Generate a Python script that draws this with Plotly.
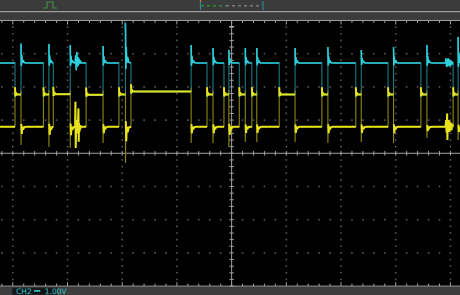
import numpy as np
import plotly.graph_objects as go

W, H = 460, 295

# ---------------- data (time and amplitude in screen divisions from centre) -------------
RECT_START = [-4.40, -3.85, -3.34, -2.95, -2.35, -1.94, -0.74, -0.34, -0.05, 0.25, 0.46,
              1.16, 1.76, 2.37, 2.96, 3.57, 4.14]
RECT_END = [-3.96, -3.44, -3.26, -2.66, -2.06, -1.84, -0.45, -0.14, 0.14, 0.37, 0.87,
            1.65, 2.27, 2.86, 3.46, 4.05, 4.40]
CYAN_PEAK = [3.30, 3.31, 3.29, 3.26, 3.23, 3.92, 3.26, 3.17, 3.11, 3.17, 3.17,
             3.17, 3.20, 3.11, 3.20, 3.26, 3.50]
YELLOW_DIP = [0.25, 0.25, 0.19, 0.16, 0.31, -0.29, 0.31, 0.31, 0.19, 0.34, 0.34,
              0.34, 0.31, 0.34, 0.31, 0.46, 0.40]
GAP_MID = [1.77, 1.77, 1.78, 1.76, 1.77, 1.86, 1.77, 1.77, 1.77, 1.77, 1.77,
           1.77, 1.77, 1.77, 1.77, 1.77, 1.77]
CYAN_HIGH = 2.72
YELLOW_LOW = 0.80
CYAN_MID_OFFSET = 0.0

CYAN_NOISE_X = [-2.86, -2.85, -2.84, -2.83, -2.82, -2.81, -2.80, -2.79, -2.78, -2.77, -2.76, -2.75,
                3.91, 3.92, 3.93, 3.94, 3.95, 3.96, 3.97, 3.98, 3.99, 4.00, 4.01, 4.02, 4.03, 4.04]
CYAN_NOISE_Y = [2.72, 2.95, 2.50, 3.05, 2.60, 2.90, 2.65, 2.85, 2.70, 2.80, 2.74, 2.72,
                2.72, 2.86, 2.60, 2.84, 2.62, 2.86, 2.64, 2.82, 2.62, 2.80, 2.65, 2.78, 2.68, 2.74]
YELLOW_NOISE_X = [-2.86, -2.855, -2.85, -2.84, -2.83, -2.82, -2.81, -2.80, -2.795, -2.79, -2.78,
                  -2.77, -2.76, -2.75,
                  3.91, 3.92, 3.93, 3.94, 3.945, 3.95, 3.96, 3.97, 3.98, 3.99, 4.00, 4.01,
                  4.02, 4.03, 4.04]
YELLOW_NOISE_Y = [0.80, 1.55, 0.16, 1.00, 0.60, 0.95, 0.70, 1.35, 0.35, 0.90, 0.65,
                  0.85, 0.75, 0.80,
                  0.80, 1.00, 0.62, 1.20, 0.40, 0.98, 0.66, 1.00, 0.64, 0.95, 0.68, 0.92,
                  0.70, 0.88, 0.80]

# edge ringing shape (style): time offsets and fraction of overshoot
RING_DT = [0.0, 0.006, 0.014, 0.024, 0.038, 0.06, 0.09]
RING_FRAC = [1.0, -0.15, 0.4, 0.0, 0.15, 0.02, 0.0]

X_RANGE = [-4.234, 4.175]
Y_RANGE = [-4.268, 4.617]

CYAN = "#2ccfdc"
CYAN_DIM = "#1a7c86"
YELLOW = "#e8e21c"
YELLOW_DIM = "#8c8716"


def channel(level, extremes, noise_x, noise_y, is_cyan):
    off = CYAN_MID_OFFSET if is_cyan else 0.0
    fx, fy, bx, by = [], [], [], []
    prev_mid = GAP_MID[-1] + off
    n = len(RECT_START)
    for i in range(n):
        t0, t1 = RECT_START[i], RECT_END[i]
        mid = GAP_MID[i] + off
        ext = extremes[i]
        fx.append(t0); fy.append(prev_mid)
        if not is_cyan:
            fx.append(t0); fy.append(prev_mid + 0.12)
        fx.append(t0); fy.append(ext)
        seg = []
        for dt, f in zip(RING_DT[1:], RING_FRAC[1:]):
            if t0 + dt < t1:
                seg.append((t0 + dt, level + f * (ext - level)))
        seg += [(x, y) for x, y in zip(noise_x, noise_y) if t0 < x < t1]
        seg.sort(key=lambda p: p[0])
        seg.append((t1, level))
        if is_cyan:
            seg = [(t0, ext)] + seg
        fx += [p[0] for p in seg]; fy += [p[1] for p in seg]
        bx += [p[0] for p in seg] + [None]; by += [p[1] for p in seg] + [None]
        if is_cyan:
            blip = [(t1, mid - 0.06), (t1 + 0.01, mid + 0.05), (t1 + 0.025, mid)]
        else:
            blip = [(t1, mid + 0.22), (t1 + 0.008, mid - 0.05), (t1 + 0.02, mid + 0.06),
                    (t1 + 0.035, mid)]
        fx += [p[0] for p in blip]; fy += [p[1] for p in blip]
        nxt = RECT_START[i + 1] if i + 1 < n else X_RANGE[1] + 0.3
        idle = blip + [(nxt, mid)]
        bx += [p[0] for p in idle] + [None]; by += [p[1] for p in idle] + [None]
        prev_mid = mid
    return fx, fy, bx, by


cfx, cfy, cbx, cby = channel(CYAN_HIGH, CYAN_PEAK, CYAN_NOISE_X, CYAN_NOISE_Y, True)
yfx, yfy, ybx, yby = channel(YELLOW_LOW, YELLOW_DIP, YELLOW_NOISE_X, YELLOW_NOISE_Y, False)

fig = go.Figure()

# ---------------- graticule ----------------
DIVS_X = list(range(-4, 5))
DIVS_Y = list(range(-4, 5))
minor_y = np.round(np.arange(-4.0, 4.0001, 0.2), 3)
minor_x = np.round(np.arange(-4.4, 4.4001, 0.2), 3)

dot_x, dot_y = [], []
for gx in DIVS_X:
    if gx == 0:
        continue
    for my in minor_y:
        if -4 < my < 4:
            dot_x.append(gx); dot_y.append(my)
for gy in DIVS_Y:
    if gy in (0, -4, 4):
        continue
    for mx in minor_x:
        if mx not in DIVS_X:
            dot_x.append(mx); dot_y.append(gy)
fig.add_trace(go.Scatter(x=dot_x, y=dot_y, mode="markers",
                         marker=dict(size=1.6, color="#575757", symbol="square", line=dict(width=0)),
                         hoverinfo="skip"))

tk_x, tk_y = [], []
for mx in minor_x:
    major = abs(mx - round(mx)) < 1e-6
    L = 0.12 if major else 0.075
    tk_x += [mx, mx, None, mx, mx, None]
    tk_y += [4, 4 - L, None, -4, -4 + L, None]
    tk_x += [mx, mx, None]
    tk_y += [-0.07, 0.07, None]
for my in minor_y:
    tk_x += [-0.04, 0.04, None]
    tk_y += [my, my, None]
tk_x += [X_RANGE[0], X_RANGE[1], None, 0, 0, None, X_RANGE[0], X_RANGE[1], None,
         X_RANGE[0], X_RANGE[1], None]
tk_y += [0, 0, None, -4, 4, None, 4, 4, None, -4, -4, None]
fig.add_trace(go.Scatter(x=tk_x, y=tk_y, mode="lines",
                         line=dict(color="#a0a0a0", width=1), hoverinfo="skip"))

# ---------------- waveforms ----------------
fig.add_trace(go.Scatter(x=cfx, y=cfy, mode="lines", line=dict(color=CYAN_DIM, width=1.1),
                         hoverinfo="skip"))
fig.add_trace(go.Scatter(x=yfx, y=yfy, mode="lines", line=dict(color=YELLOW_DIM, width=1.1),
                         hoverinfo="skip"))
fig.add_trace(go.Scatter(x=cbx, y=cby, mode="lines", line=dict(color=CYAN, width=1.6),
                         hoverinfo="skip", connectgaps=False))
fig.add_trace(go.Scatter(x=ybx, y=yby, mode="lines", line=dict(color=YELLOW, width=2.0),
                         hoverinfo="skip", connectgaps=False))


# ---------------- instrument chrome (pixel positions -> paper) ----------------
def px(x):
    return x / W


def py(y):
    return 1 - y / H


shapes = [
    dict(type="rect", xref="paper", yref="paper", x0=0, x1=1, y0=py(20.3), y1=1,
         fillcolor="#3b3b3b", line=dict(width=0), layer="below"),
    dict(type="rect", xref="paper", yref="paper", x0=0, x1=1, y0=0, y1=py(286.6),
         fillcolor="#3d3d3d", line=dict(width=0), layer="below"),
    dict(type="line", xref="paper", yref="paper", x0=0, x1=1, y0=py(11.6), y1=py(11.6),
         line=dict(color="#9c9c9c", width=1.3)),
    dict(type="path", xref="paper", yref="paper",
         path=f"M {px(43)},{py(8)} L {px(47)},{py(8)} L {px(47)},{py(2)} L {px(53)},{py(2)} "
              f"L {px(53)},{py(8)} L {px(57)},{py(8)}",
         line=dict(color="#3f8f45", width=1.2)),
    dict(type="line", xref="paper", yref="paper", x0=px(201), x1=px(226), y0=py(5.8), y1=py(5.8),
         line=dict(color="#2f8a3a", width=1.6, dash="dot")),
    dict(type="line", xref="paper", yref="paper", x0=px(226), x1=px(262), y0=py(5.8), y1=py(5.8),
         line=dict(color="#7a7a7a", width=1.6, dash="dot")),
    dict(type="line", xref="paper", yref="paper", x0=px(200.5), x1=px(200.5), y0=py(1), y1=py(10),
         line=dict(color="#2a8c96", width=1.2)),
    dict(type="line", xref="paper", yref="paper", x0=px(263), x1=px(263), y0=py(1), y1=py(10),
         line=dict(color="#2a8c96", width=1.2)),
    dict(type="line", xref="paper", yref="paper", x0=px(200.5), x1=px(200.5), y0=py(0), y1=py(2),
         line=dict(color="#d07020", width=1.2)),
    dict(type="line", xref="paper", yref="paper", x0=px(125), x1=px(125), y0=py(21.5), y1=py(29.5),
         line=dict(color="#2a9aa8", width=1)),
    dict(type="line", xref="paper", yref="paper", x0=px(229), x1=px(234.3), y0=py(26.5), y1=py(26.5),
         line=dict(color="#b0b0b0", width=1)),
    dict(type="rect", xref="paper", yref="paper", x0=px(12), x1=px(57), y0=py(295), y1=py(287.8),
         fillcolor="#141414", line=dict(color="#2a3a3c", width=0.8)),
]

fig.update_layout(
    width=W, height=H,
    margin=dict(l=0, r=0, t=0, b=0, pad=0),
    paper_bgcolor="#000000", plot_bgcolor="#000000",
    showlegend=False,
    xaxis=dict(range=X_RANGE, visible=False, fixedrange=True, domain=[0, 1]),
    yaxis=dict(range=Y_RANGE, visible=False, fixedrange=True, domain=[0, 1]),
    shapes=shapes,
    annotations=[dict(xref="paper", yref="paper", x=px(14), y=py(291.6), xanchor="left",
                      yanchor="middle", showarrow=False, text="CH2 ⎓  1.00V",
                      font=dict(family="DejaVu Sans", size=7.5, color="#34c4d0"))],
)

fig.write_html("out.html", config={"displayModeBar": False})
